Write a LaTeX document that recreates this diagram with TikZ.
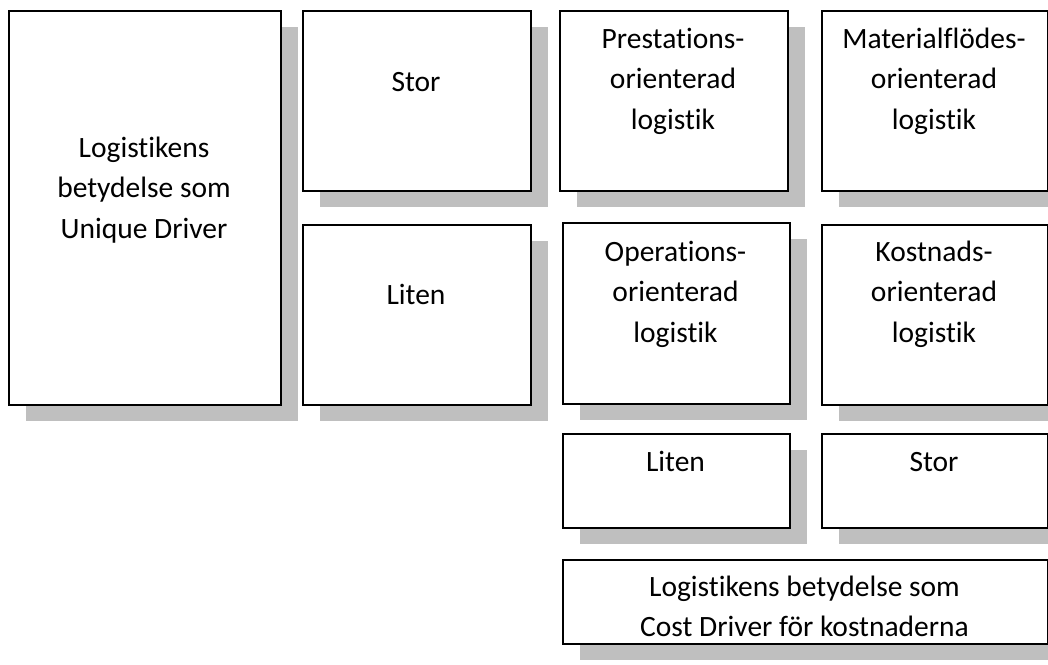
\documentclass[tikz,border=0pt]{standalone}
\usepackage{fontspec}
\setmainfont{Carlito}[Ligatures={NoCommon}, RawFeature={-liga}]
\usetikzlibrary{shadows}
\definecolor{shadowgray}{RGB}{191,191,191}
\tikzset{
  box/.style={draw=black, line width=1.7pt, fill=white, anchor=north west, inner sep=0pt,
    drop shadow={shadow xshift=17pt, shadow yshift=-16pt, fill=shadowgray, opacity=1}},
  lbl/.style={anchor=base, inner sep=0pt, font=\fontsize{29.5}{40.5}\selectfont}
}
\newcommand{\mlines}[2]{\parbox[t]{#1}{\centering #2}}
\begin{document}
\begin{tikzpicture}[x=1pt,y=-1pt]
\useasboundingbox (0,0) rectangle (1048,664);
\clip (0,0) rectangle (1048,664);
% boxes
\node[box, minimum width=272pt, minimum height=394pt] (ud) at (8,10) {};
\node[box, minimum width=228pt, minimum height=180pt] (stor1) at (302,10) {};
\node[box, minimum width=228pt, minimum height=180pt] (liten1) at (302,224) {};
\node[box, minimum width=228pt, minimum height=180pt] (prest) at (559,10) {};
\node[box, minimum width=226pt, minimum height=180pt] (mat) at (821,10) {};
\node[box, minimum width=227pt, minimum height=181pt] (oper) at (562,222) {};
\node[box, minimum width=226pt, minimum height=180pt] (kost) at (821,224) {};
\node[box, minimum width=227pt, minimum height=94pt] (liten2) at (562,433) {};
\node[box, minimum width=485pt, minimum height=84pt] (cost) at (562,559) {};
\node[box, minimum width=226pt, minimum height=94pt] (stor2) at (821,433) {};
% texts
\node[lbl] (ud-t) at (144,157) {\mlines{240pt}{Logistikens\\betydelse som\\Unique Driver}};
\node[lbl] (stor1-t) at (416,91) {Stor};
\node[lbl] (liten1-t) at (416,304) {Liten};
\node[lbl] (prest-t) at (673,48) {\mlines{210pt}{Prestations-\\orienterad\\logistik}};
\node[lbl] (mat-t) at (934,48) {\mlines{210pt}{Materialflödes-\\orienterad\\logistik}};
\node[lbl] (oper-t) at (675.5,261) {\mlines{210pt}{Operations-\\orienterad\\logistik}};
\node[lbl] (kost-t) at (934,261) {\mlines{210pt}{Kostnads-\\orienterad\\logistik}};
\node[lbl] (liten2-t) at (675.5,471) {Liten};
\node[lbl] (stor2-t) at (934,471) {Stor};
\node[lbl] (cost-t) at (804.5,596) {\mlines{460pt}{Logistikens betydelse som\\Cost Driver för kostnaderna}};
\end{tikzpicture}
\end{document}
